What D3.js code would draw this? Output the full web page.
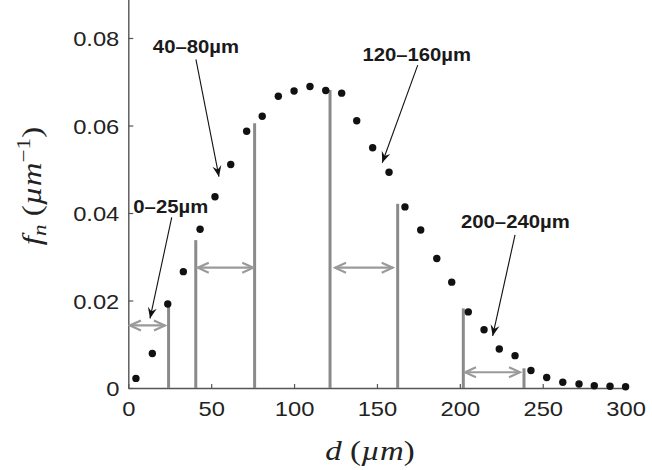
<!DOCTYPE html>
<html><head><meta charset="utf-8">
<script src="https://cdn.jsdelivr.net/npm/d3@7"></script>
<style>body{margin:0;background:#fff}</style>
</head><body>
<svg id="c" width="652" height="470"></svg>
<script>
// ---- data ----
const dValues = [4.6,14.5,23.8,33.2,43.3,52.3,61.8,71.4,80.8,90.5,100.0,109.6,119.1,128.7,137.8,147.4,157.3,166.9,176.4,186.1,195.1,205.1,214.6,223.8,233.3,242.9,252.4,262.1,271.9,281.1,290.6,300.0];
const fnValues = [0.0022,0.0079,0.0192,0.0266,0.0363,0.0437,0.0511,0.0587,0.0621,0.0667,0.0679,0.0689,0.0680,0.0674,0.0611,0.0549,0.0493,0.0414,0.0361,0.0296,0.0242,0.0174,0.0133,0.0089,0.0074,0.0040,0.0024,0.0013,0.0009,0.0005,0.0004,0.0003];

const binEdges   = [24.3, 40.7, 76.2, 121.7, 162.5, 202.1, 238.7];
const binHeights = [0.0186, 0.0338, 0.0605, 0.0681, 0.0421, 0.0182, 0.0045];

const rangeStart = [1.0, 41.9, 124.7, 203.1];
const rangeEnd   = [22.1, 75.4, 159.5, 236.3];
const rangeLevel = [0.0143, 0.0275, 0.0275, 0.0036];

const labelText  = ["0–25µm", "40–80µm", "120–160µm", "200–240µm"];
const labelD     = [25.6, 40.8, 174.0, 233.5];
const labelF     = [0.0399, 0.0765, 0.0748, 0.0365];
const pointerFromD = [26.2, 40.8, 174.6, 233.3];
const pointerFromF = [0.0390, 0.0751, 0.0738, 0.0350];
const pointerToD   = [13.1, 54.7, 153.2, 219.8];
const pointerToF   = [0.0159, 0.0483, 0.0515, 0.0119];

const xTicks = [0, 50, 100, 150, 200, 250, 300];
const yTicks = [0, 0.02, 0.04, 0.06, 0.08];

// ---- chart ----
const svg = d3.select("#c");
const x = d3.scaleLinear().domain([0, 300]).range([128.3, 625.6]);
const y = d3.scaleLinear().domain([0, 0.09]).range([388, -5.75]);

const defs = svg.append("defs");
defs.append("marker").attr("id","chev").attr("viewBox","-12 -7 14 14")
  .attr("refX",0).attr("refY",0).attr("markerWidth",14).attr("markerHeight",14)
  .attr("markerUnits","userSpaceOnUse").attr("orient","auto-start-reverse")
  .append("path").attr("d","M-11,-5 L0,0 L-11,5").attr("fill","none")
  .attr("stroke","#9a9a9a").attr("stroke-width",2.2);
defs.append("marker").attr("id","blk").attr("viewBox","-12 -6 13 12")
  .attr("refX",0).attr("refY",0).attr("markerWidth",13).attr("markerHeight",12)
  .attr("markerUnits","userSpaceOnUse").attr("orient","auto")
  .append("path").attr("d","M0,0 L-11,-4.5 L-7,0 L-11,4.5 Z").attr("fill","#111");

const tickFont = "'Liberation Sans', Arial, Helvetica, sans-serif";
const sx = 1.13;

// axes
const xAxis = svg.append("g").attr("transform",`translate(0,${y(0)})`)
  .call(d3.axisBottom(x).tickValues(xTicks).tickFormat(d3.format("d")).tickSizeInner(-4).tickSizeOuter(0).tickPadding(8));
const yAxis = svg.append("g").attr("transform",`translate(${x(0)},0)`)
  .call(d3.axisLeft(y).tickValues(yTicks).tickFormat(d => d === 0 ? "0" : d3.format(".2f")(d)).tickSizeInner(-5).tickSizeOuter(0).tickPadding(9));
[xAxis, yAxis].forEach(g => {
  g.select(".domain").attr("stroke","#555").attr("stroke-width",1.4);
  g.selectAll(".tick line").attr("stroke","#555").attr("stroke-width",1.2);
  g.selectAll(".tick text").attr("font-family",tickFont).attr("font-size",21).attr("fill","#222");
});
xAxis.selectAll(".tick text").attr("transform",`scale(${sx},1)`).attr("dy","0.78em").attr("y",12);
yAxis.selectAll(".tick text").attr("transform",`scale(${sx},1)`).attr("x",-9/sx).attr("dy","0.36em");

// bin-edge lines
svg.append("g").selectAll("line").data(binEdges).join("line")
  .attr("x1",d=>x(d)).attr("x2",d=>x(d))
  .attr("y1",y(0)).attr("y2",(d,i)=>y(binHeights[i]))
  .attr("stroke","#8a8a8a").attr("stroke-width",3);

// range arrows
svg.append("g").selectAll("line").data(rangeStart).join("line")
  .attr("x1",d=>x(d)).attr("x2",(d,i)=>x(rangeEnd[i]))
  .attr("y1",(d,i)=>y(rangeLevel[i])).attr("y2",(d,i)=>y(rangeLevel[i]))
  .attr("stroke","#9a9a9a").attr("stroke-width",2.2)
  .attr("marker-start","url(#chev)").attr("marker-end","url(#chev)");

// points
svg.append("g").selectAll("circle").data(dValues).join("circle")
  .attr("cx",d=>x(d)).attr("cy",(d,i)=>y(fnValues[i])).attr("r",3.7).attr("fill","#111");

// pointer arrows
svg.append("g").selectAll("line").data(pointerFromD).join("line")
  .attr("x1",d=>x(d)).attr("y1",(d,i)=>y(pointerFromF[i]))
  .attr("x2",(d,i)=>x(pointerToD[i])).attr("y2",(d,i)=>y(pointerToF[i]))
  .attr("stroke","#111").attr("stroke-width",1.1).attr("marker-end","url(#blk)");

// labels
svg.append("g").selectAll("text").data(labelText).join("text")
  .attr("transform",(d,i)=>`translate(${x(labelD[i])},${y(labelF[i])}) scale(1.16,1)`)
  .attr("text-anchor","middle").attr("font-family",tickFont).attr("font-weight","bold")
  .attr("font-size",17.5).attr("fill","#1a1a1a").text(d=>d);

// axis titles
const serif = "'Liberation Serif', 'Times New Roman', serif";
const xt = svg.append("text").attr("transform",`translate(${x(150) - 7},460) scale(1.22,1)`).attr("text-anchor","middle")
  .attr("font-family",serif).attr("font-size",27).attr("fill","#222");
xt.append("tspan").attr("font-style","italic").text("d");
xt.append("tspan").text(" (");
xt.append("tspan").attr("font-style","italic").text("µm");
xt.append("tspan").text(")");

const yt = svg.append("text").attr("transform","translate(41,186) rotate(-90) scale(1.22,1)").attr("text-anchor","middle")
  .attr("font-family",serif).attr("font-size",27).attr("fill","#222");
yt.append("tspan").attr("font-style","italic").text("f");
yt.append("tspan").attr("font-style","italic").attr("font-size",19).attr("dy",5).text("n");
yt.append("tspan").attr("dy",-5).text(" (");
yt.append("tspan").attr("font-style","italic").text("µm");
yt.append("tspan").attr("font-size",19).attr("dy",-11).text("−1");
yt.append("tspan").attr("dy",11).text(")");
</script>
</body></html>
